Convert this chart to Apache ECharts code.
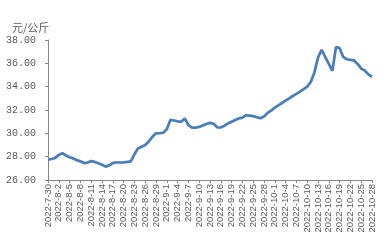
<!DOCTYPE html>
<html><head><meta charset="utf-8">
<script src="https://cdn.jsdelivr.net/npm/echarts@6/dist/echarts.min.js"></script>
<style>html,body{margin:0;padding:0;background:#fff}#c{width:384px;height:250px}</style>
</head><body><div id="c"></div>
<script>
const unitLabel = "元/公斤";
const dates = [
"2022-7-30","2022-7-31","2022-8-1","2022-8-2","2022-8-3","2022-8-4","2022-8-5","2022-8-6","2022-8-7","2022-8-8",
"2022-8-9","2022-8-10","2022-8-11","2022-8-12","2022-8-13","2022-8-14","2022-8-15","2022-8-16","2022-8-17","2022-8-18",
"2022-8-19","2022-8-20","2022-8-21","2022-8-22","2022-8-23","2022-8-24","2022-8-25","2022-8-26","2022-8-27","2022-8-28",
"2022-8-29","2022-8-30","2022-8-31","2022-9-1","2022-9-2","2022-9-3","2022-9-4","2022-9-5","2022-9-6","2022-9-7",
"2022-9-8","2022-9-9","2022-9-10","2022-9-11","2022-9-12","2022-9-13","2022-9-14","2022-9-15","2022-9-16","2022-9-17",
"2022-9-18","2022-9-19","2022-9-20","2022-9-21","2022-9-22","2022-9-23","2022-9-24","2022-9-25","2022-9-26","2022-9-27",
"2022-9-28","2022-9-29","2022-9-30","2022-10-1","2022-10-2","2022-10-3","2022-10-4","2022-10-5","2022-10-6","2022-10-7",
"2022-10-8","2022-10-9","2022-10-10","2022-10-11","2022-10-12","2022-10-13","2022-10-14","2022-10-15","2022-10-16","2022-10-17",
"2022-10-18","2022-10-19","2022-10-20","2022-10-21","2022-10-22","2022-10-23","2022-10-24","2022-10-25","2022-10-26","2022-10-27",
"2022-10-28"];
const prices = [
27.75,27.8,27.9,28.15,28.3,28.1,27.95,27.85,27.7,27.6,
27.45,27.5,27.62,27.55,27.43,27.3,27.15,27.25,27.45,27.52,
27.5,27.52,27.55,27.6,28.2,28.7,28.85,29.0,29.3,29.7,
30.0,30.02,30.05,30.35,31.15,31.1,31.02,31.0,31.28,30.7,
30.48,30.48,30.55,30.68,30.8,30.9,30.82,30.52,30.5,30.65,
30.85,31.0,31.15,31.28,31.35,31.55,31.52,31.47,31.38,31.3,
31.45,31.75,31.95,32.2,32.4,32.6,32.8,33.0,33.2,33.38,
33.57,33.78,34.0,34.4,35.2,36.5,37.15,36.55,35.95,35.35,
37.4,37.3,36.55,36.35,36.3,36.25,35.95,35.55,35.38,35.05,
34.85];
const yMin = 26, yMax = 38, yStep = 2;

const chart = echarts.init(document.getElementById('c'), null, {renderer:'canvas'});
chart.setOption({
  animation:false,
  backgroundColor:'#fff',
  title:{text:unitLabel,left:7,top:17,textStyle:{fontSize:11,fontWeight:'normal',color:'#595959',fontFamily:'Noto Sans CJK SC'}},
  grid:{left:48,right:12,top:40,bottom:70,containLabel:false},
  xAxis:{type:'category',data:dates,boundaryGap:false,
    axisLine:{lineStyle:{color:'#868686',width:1}},
    axisTick:{interval:2,length:3,lineStyle:{color:'#868686'}},
    axisLabel:{interval:2,rotate:90,fontSize:9.5,color:'#595959',fontFamily:'Liberation Sans',margin:4},
    splitLine:{show:false}},
  yAxis:{type:'value',min:yMin,max:yMax,interval:yStep,
    axisLine:{show:true,lineStyle:{color:'#868686',width:1}},
    axisTick:{show:true,length:3,lineStyle:{color:'#868686'}},
    axisLabel:{formatter:v=>v.toFixed(2),fontSize:10,color:'#595959',fontFamily:'Liberation Mono',margin:12},
    splitLine:{show:false}},
  series:[{type:'line',data:prices,showSymbol:false,symbol:'none',
    lineStyle:{color:'#4A7EBB',width:2.75},itemStyle:{color:'#4A7EBB'}}]
});
</script></body></html>
